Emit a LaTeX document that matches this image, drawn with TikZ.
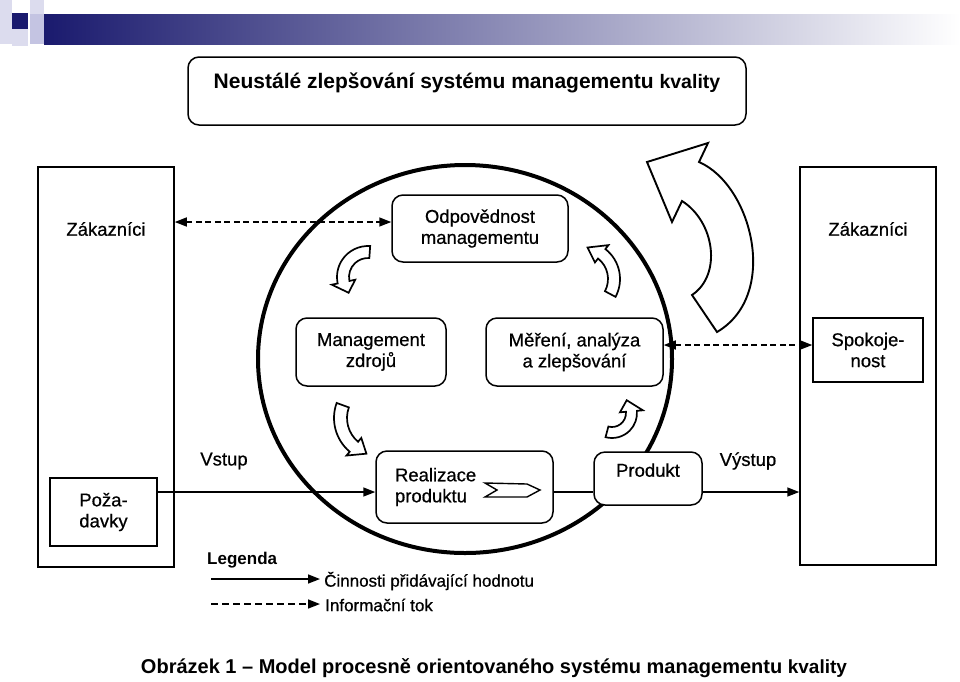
\documentclass[tikz,border=0pt]{standalone}
\usepackage{fontspec}
\setmainfont{Liberation Sans}
\newfontfamily\medfont{Liberation Sans}[FakeBold=0.6]
\usetikzlibrary{arrows.meta}
\definecolor{navy}{HTML}{1A1A6E}
\definecolor{lav}{HTML}{C4C4E2}
\definecolor{lavl}{HTML}{DCDCEE}
\newcommand\nodefont{\medfont\fontsize{18.5}{21}\selectfont}
\newcommand\curvarr[8]{%
  \draw[hollow] ([shift={(#1,#2)}]#5:#4) arc[start angle=#5, end angle=#6, radius=#4]
    -- ([shift={(#1,#2)}]#6:{#4+#8})
    -- ([shift={(#1,#2)}]{#6+#7}:{(#3+#4)/2})
    -- ([shift={(#1,#2)}]#6:{#3-#8})
    -- ([shift={(#1,#2)}]#6:#3)
    arc[start angle=#6, end angle=#5, radius=#3] -- cycle;}
\begin{document}
\begin{tikzpicture}[x=1pt,y=-1pt,
  box/.style={draw, line width=1.5pt, fill=white, inner sep=0pt, align=center, font=\nodefont},
  rbox/.style={box, rounded corners=11pt},
  flow/.style={line width=1.5pt, -{Triangle[length=12pt,width=9pt]}},
  info/.style={line width=1.5pt, dash pattern=on 6pt off 3.5pt},
  infoarr/.style={info, {Triangle[length=12pt,width=9pt]}-{Triangle[length=12pt,width=9pt]}},
  hollow/.style={draw, line width=1.7pt, fill=white, line join=miter},
  lbl/.style={font=\nodefont, inner sep=0pt}]
\useasboundingbox (0,0) rectangle (960,681);
\fill[white] (0,0) rectangle (960,681);
% header decoration
\fill[lavl] (0,0) rectangle (12,44);
\fill[navy] (12,13) rectangle (28,29);
\fill[lavl] (30,0) rectangle (44,14);
\fill[lav] (30,14) rectangle (44,44);
\fill[lavl] (12,29) rectangle (28,46);
\shade[left color=navy, right color=white] (44,14) rectangle (960,44);
% title
\node[rbox, minimum width=558pt, minimum height=68pt, text depth=20pt,
  font=\fontsize{21}{24}\selectfont\bfseries] (title) at (467,91)
  {Neustálé zlepšování systému managementu {\fontsize{19.5}{22}\selectfont kvality}};
% big circle
\draw[line width=4pt] (465,359) ellipse [x radius=207, y radius=194];
% customer boxes
\node[box, minimum width=136pt, minimum height=400pt] (zl) at (106,367) {};
\node[lbl] (zlt) at (106,229) {Zákazníci};
\node[box, minimum width=107pt, minimum height=68pt] (poz) at (103.5,512) {Poža-\\davky};
\node[box, minimum width=136pt, minimum height=398pt] (zr) at (868,366) {};
\node[lbl] (zrt) at (868,229) {Zákazníci};
\node[box, minimum width=110pt, minimum height=64pt] (spok) at (868,350) {Spokoje-\\nost};
% process boxes
\node[rbox, minimum width=176pt, minimum height=67pt] (odp) at (480,228.5) {Odpovědnost\\managementu};
\node[rbox, minimum width=150pt, minimum height=68pt] (mz) at (371,352) {Management\\zdrojů};
\node[rbox, minimum width=177pt, minimum height=68pt] (mer) at (574.5,352) {Měření, analýza\\a zlepšování};
\node[rbox, minimum width=177pt, minimum height=72pt, text width=139pt, inner xsep=19pt, align=left] (real) at (464.5,487) {Realizace\\produktu};
\node[rbox, minimum width=108pt, minimum height=53pt, text depth=17pt] (prod) at (648,478.5) {Produkt};
% chevron inside Realizace
\draw[line width=1.4pt, line join=miter] (485,483) -- (527,484) -- (540,490) -- (527,497) -- (485,497) -- (497,490) -- cycle;
% small curved arrows
\curvarr{368}{277}{19}{31}{274}{168}{-27}{6}
\curvarr{582}{279}{26}{38}{28}{-52}{-28}{5}
\curvarr{378}{418}{31}{44}{200}{130}{-22}{5}
\curvarr{612}{413}{14}{25}{105}{-5}{-36}{6}
% big curved arrow
\draw[hollow, line width=1.9pt] (647,162) -- (708,143) -- (699,162)
  .. controls (752,185) and (780,295) .. (717,332) -- (692,295)
  .. controls (722,275) and (715,222) .. (682,201) -- (672,222) -- cycle;
% connectors
\coordinate (ya) at (0,222);
\coordinate (yb) at (0,345);
\coordinate (yc) at (0,492);
\draw[infoarr] (zl.east |- ya) -- (odp.west |- ya);
\draw[infoarr] (mer.east |- yb) -- (spok.west |- yb);
\draw[flow] (poz.east |- yc) -- (real.west |- yc);
\draw[line width=1.5pt] (real.east |- yc) -- (prod.west |- yc);
\draw[flow] (prod.east |- yc) -- (zr.west |- yc);
\node[lbl] (vstup) at (224,461) {Vstup};
\node[lbl] (vystup) at (748,461) {Výstup};
% legend
\node[anchor=west, inner sep=0pt, font=\fontsize{17}{19}\selectfont\bfseries] (leg) at (207,560) {Legenda};
\coordinate (l1a) at (211,579);
\coordinate (l1b) at (320,579);
\coordinate (l2a) at (211,604);
\coordinate (l2b) at (320,604);
\draw[flow] (l1a) -- (l1b);
\draw[info, dash pattern=on 7pt off 4pt, -{Triangle[length=12pt,width=9pt]}] (l2a) -- (l2b);
\node[anchor=west, inner sep=0pt, font=\medfont\fontsize{17}{19}\selectfont] (l1t) at (324,581) {Činnosti přidávající hodnotu};
\node[anchor=west, inner sep=0pt, font=\medfont\fontsize{17}{19}\selectfont] (l2t) at (325,605) {Informační tok};
% caption
\node[inner sep=0pt, font=\fontsize{20}{23}\selectfont\bfseries] (cap) at (494,668)
  {Obrázek 1 – Model procesně orientovaného systému managementu {\fontsize{19}{22}\selectfont kvality}};
\end{tikzpicture}
\end{document}
